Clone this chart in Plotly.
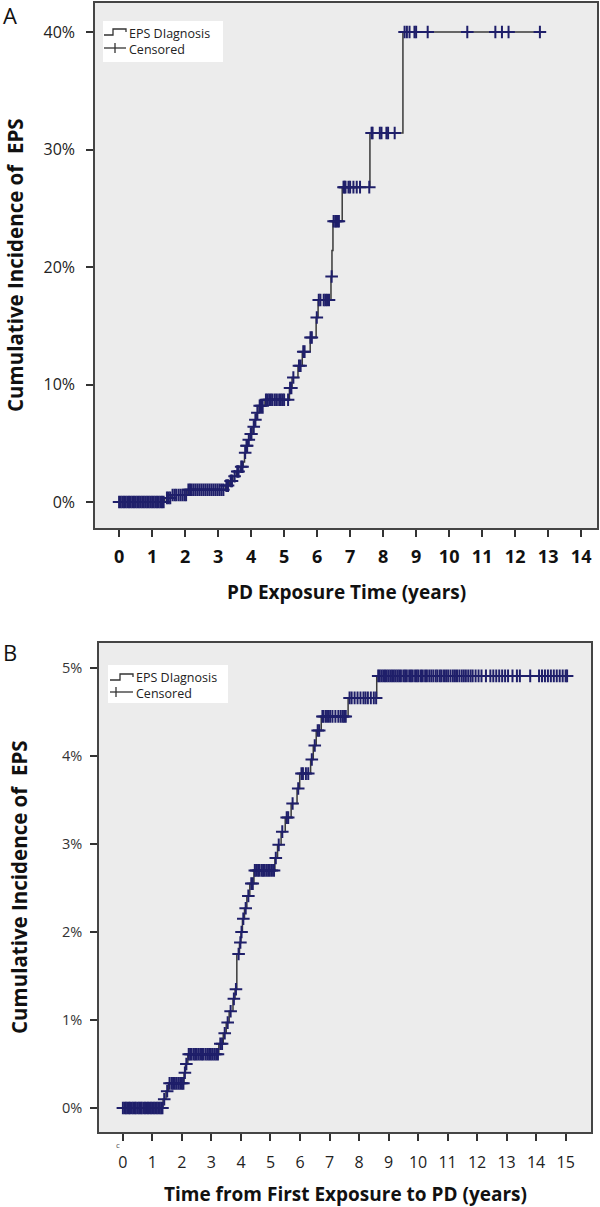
import numpy as np
import plotly.graph_objects as go

# ---------------- DATA ----------------
# Panel A: cumulative incidence (%) step points vs PD exposure time (years)
a_time = [0, 1.38, 1.60, 2.06, 3.22, 3.35, 3.45, 3.55, 3.68, 3.76, 3.80, 3.84, 3.90, 3.97,
          4.03, 4.10, 4.16, 4.24, 4.42, 5.16, 5.24, 5.42, 5.55, 5.79, 5.97, 6.03, 6.42,
          6.45, 6.48, 6.76, 7.60, 8.60, 12.75]
a_cum = [0, 0.35, 0.6, 1.05, 1.4, 1.8, 2.2, 2.6, 3.0, 3.4, 4.2, 4.8, 5.3, 5.8,
         6.4, 7.0, 7.6, 8.2, 8.7, 9.7, 10.6, 11.6, 12.8, 14.0, 15.7, 17.2, 19.2,
         21.4, 23.9, 26.8, 31.4, 40.0, 40.0]
a_censored = [0.0, 0.05, 0.1, 0.15, 0.2, 0.25, 0.3, 0.35, 0.4, 0.45, 0.5, 0.55, 0.6, 0.65,
              0.7, 0.75, 0.8, 0.85, 0.9, 0.95, 1.0, 1.05, 1.1, 1.15, 1.2, 1.25, 1.3, 1.35,
              1.45, 1.5, 1.55, 1.62, 1.68, 1.73, 1.8, 1.86, 1.92, 1.98, 2.03,
              2.1, 2.15, 2.2, 2.26, 2.32, 2.38, 2.44, 2.5, 2.56, 2.62, 2.68, 2.74, 2.8,
              2.86, 2.92, 2.98, 3.04, 3.1, 3.16,
              3.25, 3.3, 3.38, 3.42, 3.5, 3.58, 3.62, 3.7, 3.74, 3.82, 3.86, 3.88, 3.93,
              3.99, 4.01, 4.08, 4.13, 4.19, 4.26, 4.3, 4.35,
              4.45, 4.5, 4.55, 4.6, 4.65, 4.72, 4.78, 4.85, 4.9, 4.95, 5.0, 5.12,
              5.18, 5.22, 5.28, 5.45, 5.5, 5.58, 5.62, 5.8, 5.84, 5.99, 6.05, 6.1, 6.2,
              6.25, 6.3, 6.36, 6.44, 6.5, 6.55, 6.58, 6.62, 6.66,
              6.8, 6.83, 6.86, 6.95, 7.0, 7.1, 7.2, 7.3, 7.58,
              7.65, 7.68, 7.9, 7.95, 8.1, 8.15, 8.35,
              8.65, 8.72, 8.8, 8.95, 9.0, 9.35, 10.55, 11.4, 11.6, 11.8, 12.75]
a_xticks = list(range(0, 15))
a_yticks = [0, 10, 20, 30, 40]
a_ytick_labels = ["0%", "10%", "20%", "30%", "40%"]

# Panel B: cumulative incidence (%) vs time from first exposure to PD (years)
b_time = [0, 1.36, 1.46, 1.55, 2.07, 2.12, 2.20, 3.25, 3.40, 3.50, 3.60, 3.73, 3.80, 3.86,
          3.95, 4.00, 4.05, 4.12, 4.20, 4.30, 4.44, 5.15, 5.24, 5.36, 5.50, 5.70, 5.90,
          5.99, 6.36, 6.45, 6.55, 6.72, 7.63, 8.60, 15.05]
b_cum = [0, 0.10, 0.19, 0.28, 0.40, 0.50, 0.61, 0.73, 0.85, 0.97, 1.10, 1.24, 1.35, 1.75,
         1.88, 2.00, 2.15, 2.27, 2.41, 2.55, 2.70, 2.84, 2.99, 3.14, 3.30, 3.46, 3.63,
         3.80, 3.96, 4.12, 4.29, 4.45, 4.66, 4.91, 4.91]
b_censored = [0.0, 0.06, 0.1, 0.15, 0.2, 0.24, 0.3, 0.35, 0.4, 0.44, 0.5, 0.55, 0.6, 0.64,
              0.7, 0.75, 0.8, 0.85, 0.9, 0.95, 1.0, 1.05, 1.1, 1.15, 1.2, 1.25, 1.3, 1.34,
              1.4, 1.5, 1.58, 1.65, 1.7, 1.76, 1.82, 1.88, 1.94, 2.0, 2.05, 2.1, 2.15,
              2.23, 2.28, 2.33, 2.4, 2.45, 2.5, 2.56, 2.62, 2.68, 2.73, 2.8, 2.86, 2.92,
              2.98, 3.04, 3.1, 3.16, 3.22,
              3.3, 3.36, 3.45, 3.55, 3.65, 3.76, 3.83, 3.92, 3.98, 4.02, 4.08, 4.16, 4.25,
              4.35, 4.4,
              4.47, 4.52, 4.58, 4.63, 4.7, 4.75, 4.8, 4.86, 4.92, 4.98, 5.05, 5.12,
              5.18, 5.28, 5.4, 5.55, 5.6, 5.75, 5.94, 6.05, 6.1, 6.2, 6.28, 6.4, 6.5,
              6.6, 6.65,
              6.76, 6.8, 6.88, 6.95, 7.02, 7.1, 7.2, 7.3, 7.38, 7.45, 7.5, 7.55,
              7.68, 7.75, 7.85, 7.95, 8.05, 8.15, 8.22, 8.3, 8.4, 8.5, 8.58,
              8.65, 8.7, 8.76, 8.82, 8.88, 8.94, 9.0, 9.06, 9.12, 9.18, 9.24, 9.3, 9.36,
              9.42, 9.5, 9.56, 9.62, 9.7, 9.76, 9.82, 9.9, 9.96, 10.02, 10.1, 10.16,
              10.24, 10.3, 10.38, 10.45, 10.52, 10.6, 10.66, 10.74, 10.8, 10.88, 10.95,
              11.02, 11.1, 11.18, 11.25, 11.32, 11.4, 11.48, 11.55, 11.62, 11.7, 11.78,
              11.85, 11.95, 12.05, 12.15, 12.3, 12.45, 12.55, 12.65, 12.75, 12.85, 12.95,
              13.05, 13.2, 13.35, 13.45, 13.8, 14.1, 14.2, 14.3, 14.4, 14.5, 14.6, 14.7,
              14.8, 14.9, 15.0, 15.05]
b_xticks = list(range(0, 16))
b_yticks = [0, 1, 2, 3, 4, 5]
b_ytick_labels = ["0%", "1%", "2%", "3%", "4%", "5%"]

# ---------------- STYLE ----------------
W, H = 600, 1207
LINE_COL = "#3a3a3a"
MARK_COL = "#1f1f6a"
BG = "#ececec"
FONT = "Open Sans"


def step_lookup(times, cums, t):
    idx = np.searchsorted(np.asarray(times), np.asarray(t), side="right") - 1
    idx = np.clip(idx, 0, len(cums) - 1)
    return [cums[i] for i in idx]


def px(xp, yp):
    return xp / W, 1 - yp / H


fig = go.Figure()

for (t, c, cens, xa, ya) in [(a_time, a_cum, a_censored, "x", "y"),
                             (b_time, b_cum, b_censored, "x2", "y2")]:
    fig.add_trace(go.Scatter(x=t, y=c, mode="lines", line_shape="hv",
                             line=dict(color=LINE_COL, width=1.5),
                             xaxis=xa, yaxis=ya, showlegend=False,
                             name="EPS Diagnosis"))
    fig.add_trace(go.Scatter(x=cens, y=step_lookup(t, c, cens), mode="markers",
                             marker=dict(symbol="cross-thin", size=9,
                                         line=dict(color=MARK_COL, width=2)),
                             xaxis=xa, yaxis=ya, showlegend=False,
                             name="Censored"))

axis_common = dict(showline=True, mirror=True, linecolor="#454545", linewidth=1.5,
                   showgrid=False, zeroline=False, ticks="outside", ticklen=7,
                   tickwidth=1.5, tickcolor="#333333")

fig.update_layout(
    width=W, height=H,
    margin=dict(l=0, r=0, t=0, b=0),
    paper_bgcolor="white",
    plot_bgcolor=BG,
    font=dict(family=FONT, color="#111111"),
    xaxis=dict(domain=[95 / W, 597 / W], range=[-0.73, 14.48], tickvals=a_xticks,
               tickfont=dict(size=18, weight="bold", color="#111"), anchor="y",
               ticklabelstandoff=5, **axis_common),
    yaxis=dict(domain=[1 - 528 / H, 1 - 3 / H], range=[-2.21, 42.47], tickvals=a_yticks,
               ticktext=a_ytick_labels, tickfont=dict(size=16, color="#222"), anchor="x",
               ticklabelstandoff=8, **axis_common),
    xaxis2=dict(domain=[99 / W, 591 / W], range=[-0.81, 15.86], tickvals=b_xticks,
                tickfont=dict(size=16, color="#222"), anchor="y2",
                ticklabelstandoff=8, **axis_common),
    yaxis2=dict(domain=[1 - 1132 / H, 1 - 643 / H], range=[-0.273, 5.284],
                tickvals=b_yticks, ticktext=b_ytick_labels,
                tickfont=dict(size=14.5, color="#333"),
                anchor="x2", ticklabelstandoff=5, **axis_common),
)

annotations = []
shapes = []


def add_text(xp, yp, text, size, bold=False, angle=0, xanchor="center", color="#111",
             align="center"):
    x, y = px(xp, yp)
    annotations.append(dict(x=x, y=y, xref="paper", yref="paper", text=text,
                            showarrow=False, textangle=angle, xanchor=xanchor,
                            yanchor="middle", align=align,
                            font=dict(size=size, family=FONT, color=color,
                                      weight="bold" if bold else "normal")))


# panel labels
add_text(10, 15, "A", 22)
add_text(10, 652, "B", 22)
# axis titles
add_text(15, 265, "Cumulative Incidence of  EPS", 20.5, bold=True, angle=-90)
add_text(346, 592, "PD Exposure Time (years)", 19, bold=True)
add_text(19, 887, "Cumulative Incidence of  EPS", 20.5, bold=True, angle=-90)
add_text(345, 1194, "Time from First Exposure to PD (years)", 19, bold=True)
add_text(118, 1144, "c", 8, color="#555")


def legend(box, step_pts, cross_line, cross_v, text_x, yc):
    x0, y0, x1, y1 = box
    a0, b0 = px(x0, y0)
    a1, b1 = px(x1, y1)
    shapes.append(dict(type="rect", xref="paper", yref="paper", x0=a0, x1=a1,
                       y0=b1, y1=b0, fillcolor="white", line=dict(width=0)))
    path = "M " + " L ".join(f"{px(xp, yp)[0]},{px(xp, yp)[1]}" for xp, yp in step_pts)
    shapes.append(dict(type="path", xref="paper", yref="paper", path=path,
                       line=dict(color="#333", width=1.3)))
    (lx0, lx1, ly) = cross_line
    p0 = px(lx0, ly); p1 = px(lx1, ly)
    shapes.append(dict(type="line", xref="paper", yref="paper", x0=p0[0], y0=p0[1],
                       x1=p1[0], y1=p1[1], line=dict(color="#333", width=1.3)))
    (vx, vy0, vy1) = cross_v
    q0 = px(vx, vy0); q1 = px(vx, vy1)
    shapes.append(dict(type="line", xref="paper", yref="paper", x0=q0[0], y0=q0[1],
                       x1=q1[0], y1=q1[1], line=dict(color="#333", width=1.3)))
    add_text(text_x, yc, "EPS DIagnosis<br>Censored", 12.5, xanchor="left", color="#222",
             align="left")


legend((103, 21, 223, 62), [(104, 35), (113, 35), (113, 29), (126, 29), (126, 32)],
       (104, 126, 48), (115, 43, 53), 127, 41)
legend((108, 665, 228, 703), [(110, 680), (120, 680), (120, 674), (133, 674), (133, 677)],
       (110, 133, 692), (116, 687, 697), 134, 685)

fig.update_layout(annotations=annotations, shapes=shapes)
fig.write_html("out.html", config={"displayModeBar": False},
               post_script="document.body.style.margin='0px';"
                           "document.body.style.overflow='hidden';")
